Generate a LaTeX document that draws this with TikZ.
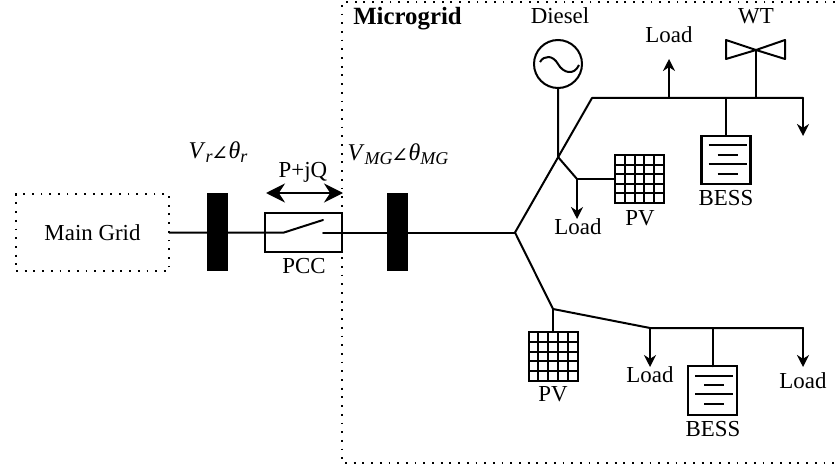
\documentclass[tikz,border=0pt]{standalone}
\usepackage{fontspec}
\setmainfont{Liberation Serif}
\newfontfamily\symfont[FakeSlant=0.2]{DejaVu Sans}
\usetikzlibrary{arrows.meta,calc}
\newcommand{\sbs}[1]{\lower4pt\hbox{\fontsize{18}{18}\selectfont\itshape #1}}
\newcommand{\angsym}{{\fontsize{16}{16}\symfont ∠}\kern1.5pt}
\newcommand{\drawpv}[1]{%
  \foreach \t in {0.2,0.4,0.6,0.8}{
    \draw[inner line] ($(#1.north west)!\t!(#1.north east)$) -- ($(#1.south west)!\t!(#1.south east)$);
    \draw[inner line] ($(#1.north west)!\t!(#1.south west)$) -- ($(#1.north east)!\t!(#1.south east)$);
  }}
\newcommand{\drawbess}[1]{%
  \draw[inner line] ([shift={(-17.5,9.5)}]#1.north) -- ([shift={(20.5,9.5)}]#1.north);
  \draw[inner line] ([shift={(-8.5,19)}]#1.north) -- ([shift={(11.5,19)}]#1.north);
  \draw[inner line] ([shift={(-17.5,28)}]#1.north) -- ([shift={(20.5,28)}]#1.north);
  \draw[inner line] ([shift={(-8.5,38)}]#1.north) -- ([shift={(11.5,38)}]#1.north);}
\tikzset{
  x=1pt,y=-1pt,
  every node/.style={font=\fontsize{22.9}{26}\selectfont,inner sep=0pt,outer sep=0pt},
  wire/.style={line width=2pt,line join=round,line cap=round,draw=black},
  inner line/.style={line width=2pt,draw=black},
  loadarrow/.style={wire,-{Stealth[length=12pt,width=12pt]}},
  flowarrow/.style={line width=2pt,{Stealth[length=19pt,width=19pt]}-{Stealth[length=19pt,width=19pt]}},
  dotbound/.style={line width=1.8pt,draw=black,dash pattern=on 1.8pt off 6.9pt},
  busbar/.style={fill=black,draw=none,minimum width=21pt,minimum height=78pt},
  pvbox/.style={draw=black,fill=white,line width=2pt,minimum width=49pt,minimum height=48pt},
  bessbox/.style={draw=black,fill=white,line width=2.2pt,minimum width=49pt,minimum height=48.5pt},
  gen/.style={circle,draw=black,fill=white,line width=2pt,minimum size=48pt},
  pccbox/.style={draw=black,line width=2pt,minimum width=77pt,minimum height=39pt},
  gridbox/.style={dotbound,minimum width=153pt,minimum height=77pt},
}
\begin{document}
\begin{tikzpicture}
\useasboundingbox (0,0) rectangle (835,468);
% boundary of microgrid
\coordinate (mgT) at (342,2);
\coordinate (mgB) at (342,463);
\coordinate (mgTR) at (835,2);
\coordinate (mgBR) at (835,463);
\draw[dotbound] (mgTR) -- (mgT) -- (mgB) -- (mgBR);

% main elements
\node[gridbox] (grid) at (92.5,232.5) {Main Grid};
\coordinate (root) at (515,232.5);
\coordinate (swL) at (284,232.5);
\coordinate (swU) at (323,220);
\coordinate (swR) at (323,232.5);
\node[pccbox] (pcc) at (303.5,232.5) {};
\draw[wire] (grid.east) -- (swL) -- (swU);
\draw[wire] (swR) -- (root);
\node[busbar] (busA) at (217.5,232) {};
\node[busbar] (busB) at (397,232) {};
\coordinate (flowL) at (266,193);
\coordinate (flowR) at (343,193);
\draw[flowarrow] (flowL) -- (flowR);

% upper feeder
\coordinate (upBend) at (592,98);
\coordinate (upEnd) at (803,98);
\coordinate (upArrow) at (803,136);
\coordinate (tapLoad) at (669,98);
\coordinate (tapLoadEnd) at (669,59);
\coordinate (tapBess) at (726,98);
\coordinate (tapWT) at (756,98);
\coordinate (wt) at (756,50);
\coordinate (jD) at (558,157);
\coordinate (jPV) at (577,179);
\coordinate (jPVEnd) at (577,219);
\draw[wire] (root) -- (upBend) -- (upEnd);
\draw[loadarrow] (upEnd) -- (upArrow);
\draw[loadarrow] (tapLoad) -- (tapLoadEnd);
\node[gen] (diesel) at (558,64) {};
\draw[wire] (diesel.south) -- (jD) -- (jPV);
\draw[line width=2pt] (540,62) .. controls (544,55) and (553,55) .. (558,64) .. controls (563,73) and (574,76) .. (579,65);
\node[bessbox] (bessA) at (726,160) {};
\drawbess{bessA}
\draw[wire] (tapBess) -- (bessA.north);
\draw[wire] (tapWT) -- (wt);
\draw[wire] (wt) -- (726,40) -- (726,59) -- cycle;
\draw[wire] (wt) -- (785,40) -- (785,59) -- cycle;
\node[pvbox] (pvA) at (639.5,179) {};
\drawpv{pvA}
\draw[wire] (jPV) -- (pvA.west);
\draw[loadarrow] (jPV) -- (jPVEnd);

% lower feeder
\coordinate (lowA) at (553,309);
\coordinate (lowB) at (650,328);
\coordinate (lowEnd) at (803,328);
\coordinate (lowArrowA) at (650,367);
\coordinate (lowArrowB) at (803,367);
\coordinate (tapBessB) at (712.5,328);
\draw[wire] (root) -- (lowA) -- (lowB) -- (lowEnd);
\draw[loadarrow] (lowB) -- (lowArrowA);
\draw[loadarrow] (lowEnd) -- (lowArrowB);
\node[pvbox,minimum height=49pt] (pvB) at (553,356.5) {};
\drawpv{pvB}
\draw[wire] (lowA) -- (pvB.north);
\node[bessbox] (bessB) at (712.5,390.5) {};
\drawbess{bessB}
\draw[wire] (tapBessB) -- (bessB.north);

% labels
\node (lbMG) at (407.5,19) {\fontsize{24.8}{28}\selectfont\bfseries Microgrid};
\node (lbDiesel) at (560,16) {Diesel};
\node (lbWT) at (756,16) {WT};
\node (lbLoadA) at (669,35) {Load};
\node (lbLoadB) at (578,227) {Load};
\node (lbPVA) at (640,218) {PV};
\node (lbBessA) at (726,198) {BESS};
\node (lbPVB) at (553,394) {PV};
\node (lbLoadC) at (650,375) {Load};
\node (lbBessB) at (713,429) {BESS};
\node (lbLoadD) at (803,381) {Load};
\node (lbPCC) at (304,266) {PCC};
\node (lbPQ) at (303,172) {P+jQ};
\node (lbVr) at (218,152) {\fontsize{24}{28}\selectfont\textit{V}\sbs{r}\angsym\textit{θ}\sbs{r}};
\node (lbVMG) at (398,154) {\fontsize{24}{28}\selectfont\textit{V}\sbs{MG}\angsym\textit{θ}\sbs{MG}};
\end{tikzpicture}
\end{document}
